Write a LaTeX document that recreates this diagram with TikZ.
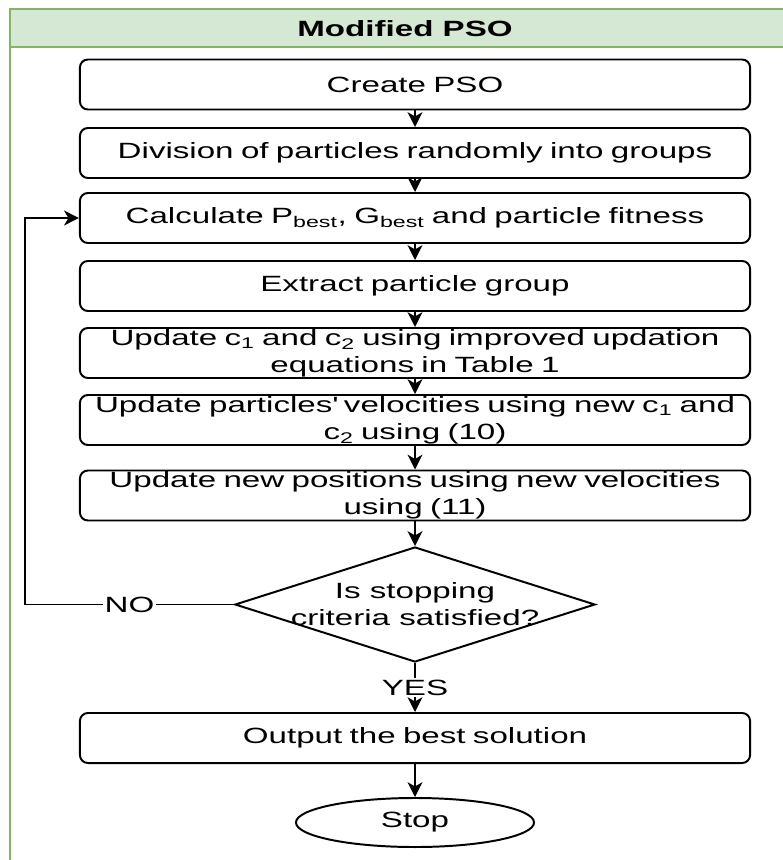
\documentclass[tikz,border=0pt]{standalone}
\usepackage{fontspec}
\setmainfont{Liberation Sans}[FakeStretch=1.5]
\usetikzlibrary{positioning,shapes.geometric,arrows.meta}
\definecolor{hdrgreen}{HTML}{D5E8D4}
\definecolor{framegreen}{HTML}{82B366}
\tikzset{process/.style = {draw, rounded corners=0.2cm, line width=1.4pt, minimum height=1.25cm, text width=16.75cm, inner xsep=0pt, inner ysep=0pt, align=center}}
\tikzset{decision/.style = {draw, diamond, line width=1.4pt, minimum width=9cm, minimum height=2.875cm, inner sep=0pt}}
\tikzset{terminal/.style = {draw, ellipse, line width=1.4pt, minimum width=5.95cm, minimum height=1.225cm, inner sep=0pt}}
\tikzset{lbl/.style = {fill=white, inner sep=1pt}}

\begin{document}
\begin{tikzpicture}[x=0.025cm, y=-0.025cm, >={Stealth[length=10.5pt, width=10.5pt, inset=3pt]}, line width=1.4pt, font=\fontsize{15.7}{19.2}\selectfont]
  \useasboundingbox (0,0) rectangle (782,860);
  % frame and header
  \draw[framegreen, fill=white] (10,47) rectangle (800,880);
  \draw[framegreen, fill=hdrgreen] (10,9) rectangle (800,47);
  \node (title) at (405,28.5) {\bfseries Modified PSO};

  \node [process] (create) at (415,84.5) {Create PSO};
  \node [process] (divide) at (415,153) {Division of particles randomly into groups};
  \node [process] (calc) at (415,218) {Calculate P\textsubscript{best}, G\textsubscript{best} and particle fitness};
  \node [process] (extract) at (415,286) {Extract particle group};
  \node [process] (coeff) at (415,353) {Update c\textsubscript{1} and c\textsubscript{2} using improved updation\\equations in Table 1};
  \node [process] (veloc) at (415,420) {Update particles\textquotesingle{} velocities using new c\textsubscript{1} and\\c\textsubscript{2} using (10)};
  \node [process] (posit) at (415,495.5) {Update new positions using new velocities\\using (11)};
  \node [decision, label={[align=center]center:Is stopping\\criteria satisfied?}] (stopq) at (415,604.5) {};
  \node [process] (output) at (415,738) {Output the best solution};
  \node [terminal] (stop) at (415,822.5) {Stop};
  \coordinate (loopcorner) at (25,604.5);

  \draw[->] (create) -- (divide);
  \draw[->] (divide) -- (calc);
  \draw[->] (calc) -- (extract);
  \draw[->] (extract) -- (coeff);
  \draw[->] (coeff) -- (veloc);
  \draw[->] (veloc) -- (posit);
  \draw[->] (posit) -- (stopq);
  \draw[->] (stopq.west) -- node[lbl] {NO} (loopcorner) |- (calc.west);
  \draw[->] (stopq.south) -- node[lbl] {YES} (output.north);
  \draw[->] (output) -- (stop);
\end{tikzpicture}
\end{document}
